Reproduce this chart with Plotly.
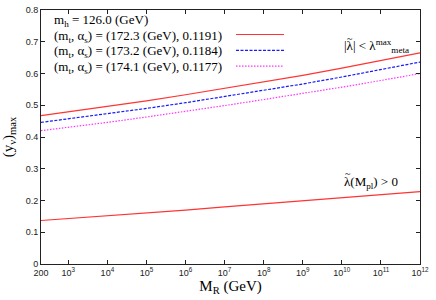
import plotly.graph_objects as go

mr = [200, 1e3, 1e4, 1e5, 1e6, 1e7, 1e8, 1e9, 1e10, 1e11, 1e12]
meta_1723 = [0.467, 0.479, 0.496, 0.514, 0.533, 0.553, 0.573, 0.594, 0.617, 0.640, 0.665]
meta_1732 = [0.446, 0.457, 0.473, 0.490, 0.508, 0.527, 0.546, 0.567, 0.589, 0.612, 0.636]
meta_1741 = [0.420, 0.430, 0.446, 0.463, 0.480, 0.499, 0.518, 0.537, 0.557, 0.578, 0.600]
pos_1723 = [0.137, 0.143, 0.152, 0.161, 0.170, 0.180, 0.190, 0.199, 0.208, 0.218, 0.228]

xtick_vals = [200, 1e3, 1e4, 1e5, 1e6, 1e7, 1e8, 1e9, 1e10, 1e11, 1e12]
xtick_text = ["200"] + [f"10<sup>{k}</sup>" for k in range(3, 13)]
ytick_vals = [0, 0.1, 0.2, 0.3, 0.4, 0.5, 0.6, 0.7, 0.8]
ytick_text = ["0", "0.1", "0.2", "0.3", "0.4", "0.5", "0.6", "0.7", "0.8"]

legend_labels = [
    "(m<sub>t</sub>, α<sub>s</sub>) = (172.3 (GeV), 0.1191)",
    "(m<sub>t</sub>, α<sub>s</sub>) = (173.2 (GeV), 0.1184)",
    "(m<sub>t</sub>, α<sub>s</sub>) = (174.1 (GeV), 0.1177)",
]
colors = ["#ff3333", "#1a1aff", "#ff33ff"]
dashes = ["solid", "3px,1.5px", "1.5px,1.5px"]

serif = "Liberation Serif, Times New Roman, serif"
sans = "Liberation Sans, Arial, sans-serif"

fig = go.Figure()
for ys, c, d in zip([meta_1723, meta_1732, meta_1741], colors, dashes):
    fig.add_trace(go.Scatter(x=mr, y=ys, mode="lines",
                             line=dict(color=c, width=1.2, dash=d), showlegend=False))
fig.add_trace(go.Scatter(x=mr, y=pos_1723, mode="lines",
                         line=dict(color=colors[0], width=1.2), showlegend=False))

W, H = 436, 300
ml, mr_, mt, mb = 41, 16, 10, 36
pw, ph = W - ml - mr_, H - mt - mb

def px2paper(x, y):
    return (x - ml) / pw, 1 - (y - mt) / ph

tfont = dict(family=serif, size=13, color="black")

ann = []
x0, y0 = px2paper(52, 20)
ann.append(dict(x=x0, y=y0, xref="paper", yref="paper", xanchor="left", yanchor="middle",
                text="m<sub>h</sub> = 126.0 (GeV)", showarrow=False, font=tfont))
shapes = []
for i, (lab, c, d) in enumerate(zip(legend_labels, colors, dashes)):
    yy = 36 + 15.8 * i
    xa, ya = px2paper(52, yy)
    ann.append(dict(x=xa, y=ya, xref="paper", yref="paper", xanchor="left", yanchor="middle",
                    text=lab, showarrow=False, font=tfont))
    sx0, sy = px2paper(236, yy - 1.5)
    sx1, _ = px2paper(284, yy - 1.5)
    shapes.append(dict(type="line", xref="paper", yref="paper", x0=sx0, x1=sx1, y0=sy, y1=sy,
                       line=dict(color=c, width=1.2, dash=d)))

xa, ya = px2paper(342, 46)
ann.append(dict(x=xa, y=ya, xref="paper", yref="paper", xanchor="left", yanchor="middle",
                text="|λ| < λ<sup>max</sup><sub>meta</sub>", showarrow=False, font=tfont))
xa, ya = px2paper(349.5, 38)
ann.append(dict(x=xa, y=ya, xref="paper", yref="paper", xanchor="center", yanchor="middle",
                text="~", showarrow=False, font=dict(family=serif, size=10, color="black")))
xa, ya = px2paper(342, 182)
ann.append(dict(x=xa, y=ya, xref="paper", yref="paper", xanchor="left", yanchor="middle",
                text="λ(M<sub>pl</sub>) > 0", showarrow=False, font=tfont))
xa, ya = px2paper(348, 173)
ann.append(dict(x=xa, y=ya, xref="paper", yref="paper", xanchor="center", yanchor="middle",
                text="~", showarrow=False, font=dict(family=serif, size=10, color="black")))

fig.update_layout(
    width=W, height=H,
    margin=dict(l=ml, r=mr_, t=mt, b=mb, autoexpand=False),
    paper_bgcolor="white", plot_bgcolor="white",
    annotations=ann, shapes=shapes,
    xaxis=dict(type="log", range=[2.30103, 12], tickvals=xtick_vals, ticktext=xtick_text,
               ticks="inside", ticklen=4, tickcolor="#222", showline=True, linecolor="#222",
               linewidth=1, mirror="ticks", showgrid=False, zeroline=False, automargin=False,
               tickfont=dict(family=sans, size=9, color="#222"),
               title=dict(text="M<sub>R</sub> (GeV)", font=dict(family=serif, size=15, color="black"),
                          standoff=2)),
    yaxis=dict(range=[0, 0.8], tickvals=ytick_vals, ticktext=ytick_text,
               ticks="inside", ticklen=4, tickcolor="#222", showline=True, linecolor="#222",
               linewidth=1, mirror="ticks", showgrid=False, zeroline=False, automargin=False,
               tickfont=dict(family=sans, size=9, color="#222"),
               title=dict(text="(y<sub>ν</sub>)<sub>max</sub>", font=dict(family=serif, size=15, color="black"),
                          standoff=9)),
)
fig.write_html("out.html", config={"displayModeBar": False},
               post_script="document.body.style.margin='0';")
